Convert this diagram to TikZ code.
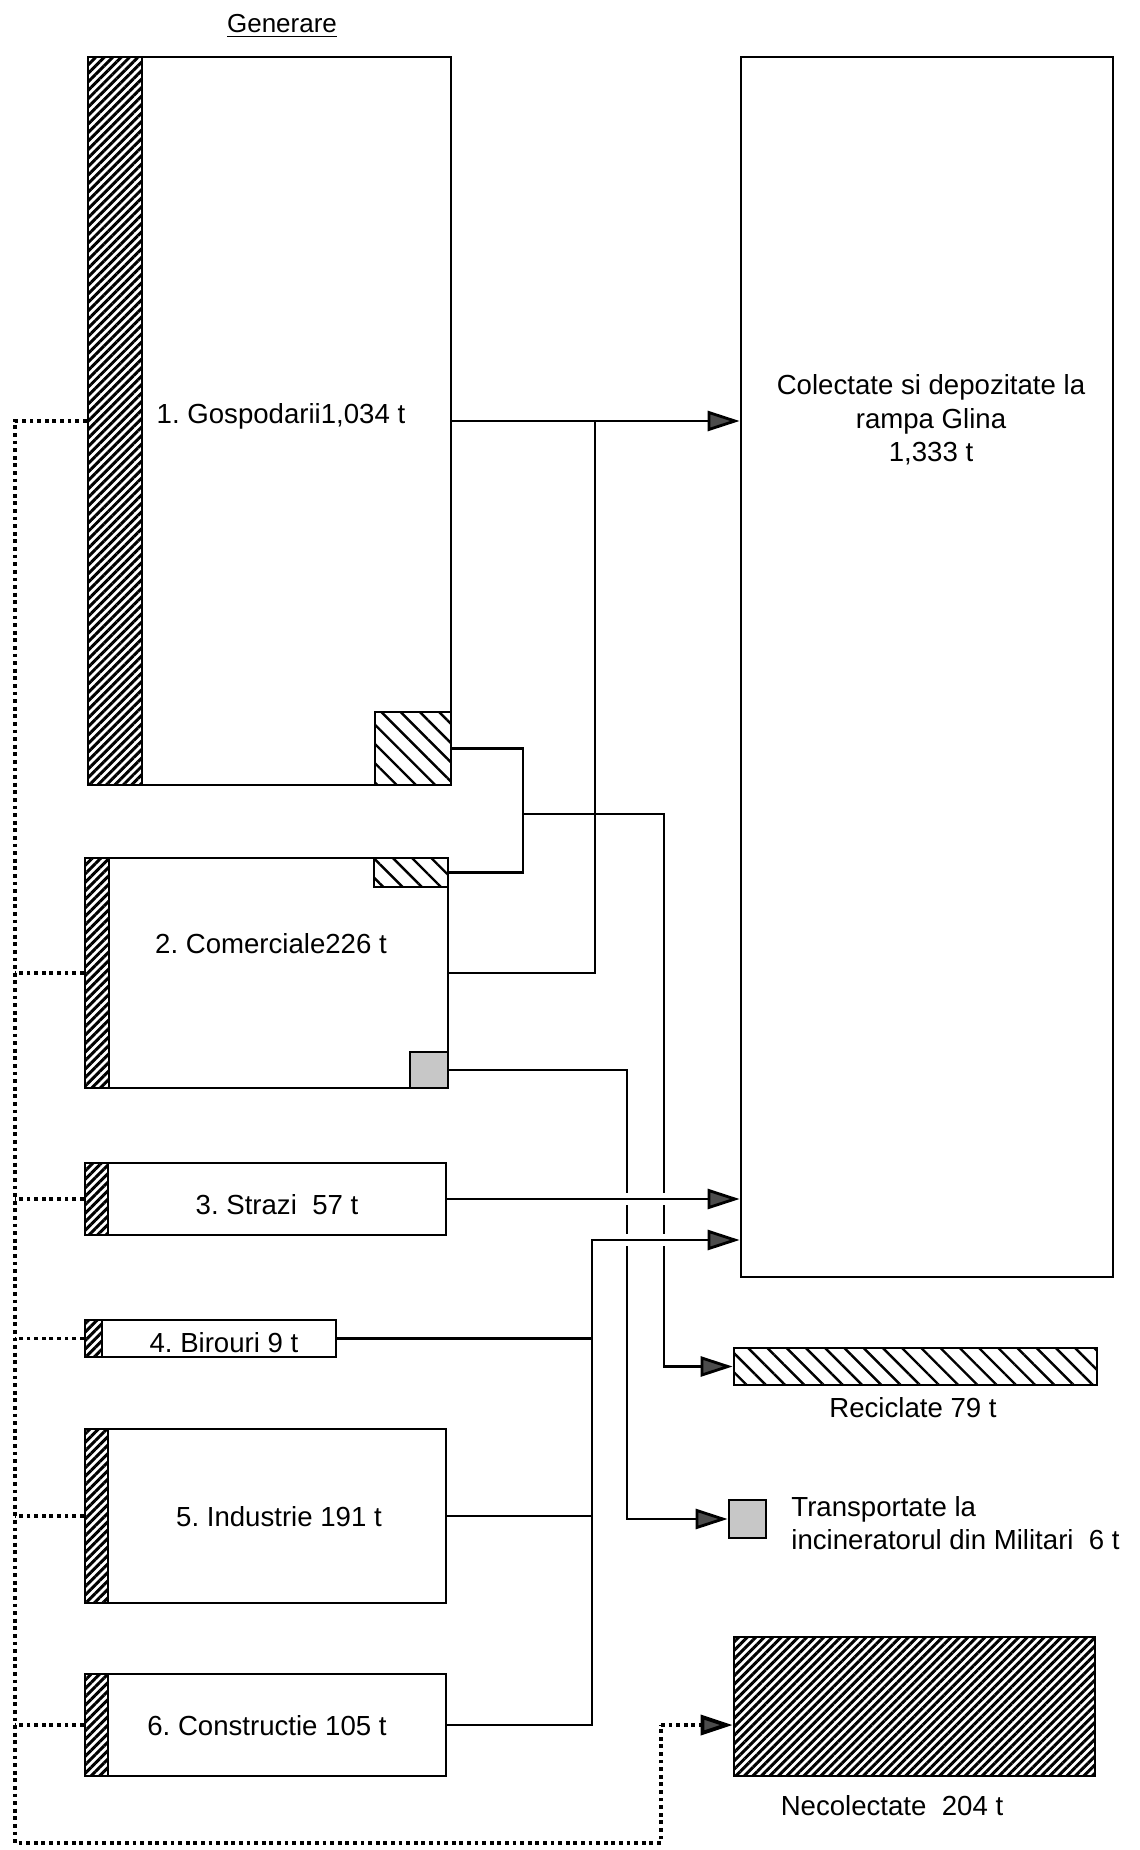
\documentclass[tikz,border=0pt]{standalone}
\usepackage{fontspec}
\setmainfont{Liberation Sans}
\usetikzlibrary{arrows.meta,patterns.meta,fit,calc}
\frenchspacing
\begin{document}
\begin{tikzpicture}[x=0.5pt,y=-0.5pt,
  box/.style={draw=black, line width=1.4pt, inner sep=0pt, rectangle, fill=white},
  stripe/.style={draw=black, line width=1.4pt, inner sep=0pt, rectangle,
    pattern={Lines[angle=45,distance=3pt,line width=1.5pt]}},
  hatchb/.style={draw=black, line width=1.4pt, inner sep=0pt, rectangle,
    pattern={Lines[angle=-45,distance=6.8pt,line width=1.2pt]}},
  grayb/.style={draw=black, line width=1.4pt, inner sep=0pt, rectangle, fill=black!22},
  conn/.style={line width=1.4pt},
  arr/.style={conn, -{Triangle[length=16pt,width=10pt,fill=black!70]}},
  dotl/.style={line width=1.9pt, dash pattern=on 1.9pt off 1.9pt},
  gap/.style={white, line width=6pt},
  lbl/.style={font=\fontsize{13.8}{16.5}\selectfont, inner sep=0pt}
]
\fill[white] (0,0) rectangle (1139,1850);
\useasboundingbox (0,0) rectangle (1139,1850);

% title
\node[lbl, font=\fontsize{13}{15}\selectfont, anchor=base] (title) at (282,33) {\underline{Generare}};

% big collection box
\node[box, fit={(741,57)(1113,1277)}] (big) {};
\node[lbl, align=center, anchor=base] (bigt) at (931,461) {Colectate si depozitate la\\rampa Glina\\1,333 t};

% source boxes
\node[box, fit={(88,57)(451,785)}] (b1) {};
\node[stripe, fit={(88,57)(142,785)}] (s1) {};
\node[hatchb, fit={(375,712)(451,785)}] (h1) {};
\node[lbl, anchor=base] (t1) at (281,424) {1. Gospodarii1,034 t};

\node[box, fit={(85,858)(448,1088)}] (b2) {};
\node[stripe, fit={(85,858)(109,1088)}] (s2) {};
\node[hatchb, fit={(374,858)(448,887)}] (h2) {};
\node[grayb, fit={(410,1052)(448,1088)}] (g2) {};
\node[lbl, anchor=base] (t2) at (271,953) {2. Comerciale226 t};

\node[box, fit={(85,1163)(446,1235)}] (b3) {};
\node[stripe, fit={(85,1163)(108,1235)}] (s3) {};
\node[lbl, anchor=base] (t3) at (277,1214) {3. Strazi~ 57 t};

\node[box, fit={(85,1320)(336,1357)}] (b4) {};
\node[stripe, fit={(85,1320)(102,1357)}] (s4) {};
\node[lbl, anchor=base] (t4) at (224,1352) {4. Birouri 9 t};

\node[box, fit={(85,1429)(446,1603)}] (b5) {};
\node[stripe, fit={(85,1429)(108,1603)}] (s5) {};
\node[lbl, anchor=base] (t5) at (279,1526) {5. Industrie 191 t};

\node[box, fit={(85,1674)(446,1776)}] (b6) {};
\node[stripe, fit={(85,1674)(108,1776)}] (s6) {};
\node[lbl, anchor=base] (t6) at (267,1735) {6. Constructie 105 t};

% destination boxes
\node[hatchb, fit={(734,1348)(1097,1385)}] (rec) {};
\node[lbl, anchor=base] (rect) at (913,1417) {Reciclate 79 t};
\node[grayb, fit={(729,1500)(766,1538)}] (inc) {};
\node[lbl, anchor=base west, align=left] (inct) at (791,1549) {Transportate la\\incineratorul din Militari~ 6 t};
\node[stripe, fit={(734,1637)(1095,1776)}] (nec) {};
\node[lbl, anchor=base] (nect) at (892,1815) {Necolectate~ 204 t};

% routing coordinates
\coordinate (xj) at (595,421);
\coordinate (xb) at (523,0);
\coordinate (jr) at (523,814);
\coordinate (xr) at (664,0);
\coordinate (xg) at (627,0);
\coordinate (xc) at (592,0);
\coordinate (y2) at (0,1240);
\coordinate (dl) at (15,0);
\coordinate (dbl) at (15,1843);
\coordinate (dbr) at (661,1843);

% collected flows
\draw[arr] (b1.east) -- (big.west |- b1.east);
\draw[conn] (b2.east) -| (xj);

% recycled flow
\draw[conn] (h1.east) -- (h1.east -| xb) -- (h2.east -| xb) -- (h2.east);
\draw[arr] (jr) -- (jr -| xr) |- (rec.west);

% incinerated flow
\draw[arr] (g2.east) -| (xg |- inc.west) -- (inc.west);

% line jumps
\draw[gap] ($(xg |- b3.east)+(-7,0)$) -- ($(xr |- b3.east)+(7,0)$);
\draw[gap] ($(xg |- y2)+(-7,0)$) -- ($(xr |- y2)+(7,0)$);

\draw[arr] (b3.east) -- (big.west |- b3.east);
\draw[conn] (b4.east) -- (xc |- b4.east);
\draw[conn] (b5.east) -- (xc |- b5.east);
\draw[arr] (b6.east) -- (xc |- b6.east) -- (xc |- y2) -- (big.west |- y2);

% uncollected (dotted)
\draw[dotl] (s1.west) -- (dl |- s1.west) -- (dbl) -- (dbr) -- (dbr |- b6.east);
\draw[dotl, -{Triangle[length=16pt,width=10pt,fill=black!70]}] (dbr |- b6.east) -- (nec.west |- b6.east);
\draw[dotl] (s2.west) -- (dl |- s2.west);
\draw[dotl] (s3.west) -- (dl |- s3.west);
\draw[dotl] (s4.west) -- (dl |- s4.west);
\draw[dotl] (s5.west) -- (dl |- s5.west);
\draw[dotl] (s6.west) -- (dl |- s6.west);
\end{tikzpicture}
\end{document}
